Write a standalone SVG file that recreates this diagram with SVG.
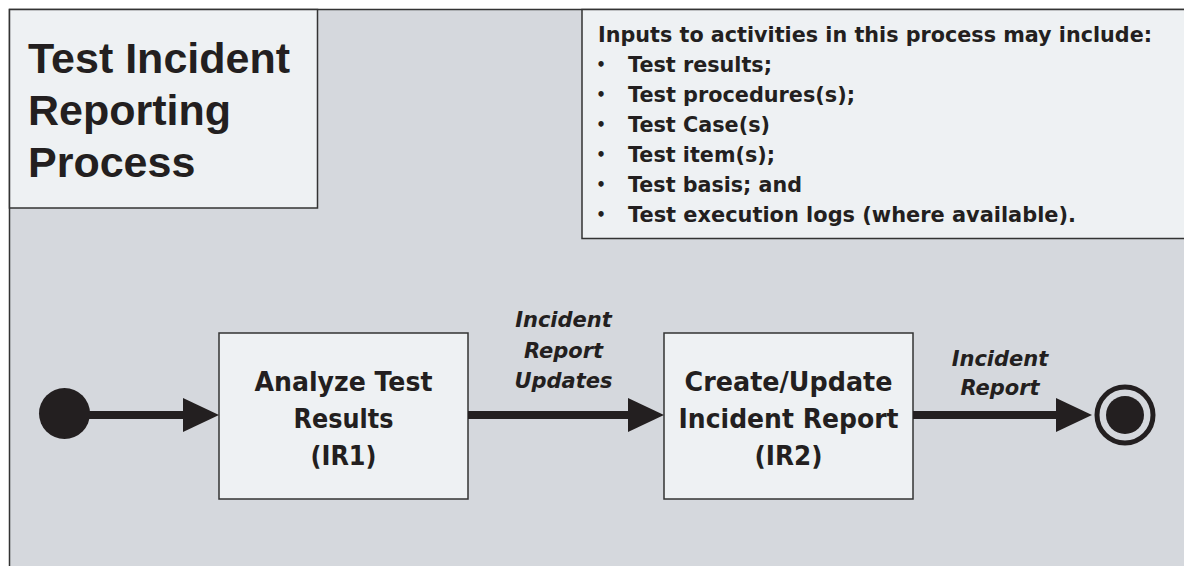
<svg xmlns="http://www.w3.org/2000/svg" width="1184" height="566" viewBox="0 0 1184 566">
  <defs>
    <style>
      .frame { fill: #d5d8dd; stroke: #333333; stroke-width: 1.5; }
      .box { fill: #eef1f3; stroke: #333333; stroke-width: 1.5; }
      .title { font-family: "Liberation Sans", Arial, sans-serif; font-weight: bold; font-size: 43px; fill: #231f20; }
      .note { font-family: "DejaVu Sans", Verdana, sans-serif; font-weight: bold; font-size: 22px; fill: #231f20; }
      .bul { font-family: "DejaVu Sans", Verdana, sans-serif; font-weight: bold; font-size: 15px; fill: #231f20; text-anchor: middle; }
      .node { font-family: "DejaVu Sans", Verdana, sans-serif; font-weight: bold; font-size: 27px; fill: #231f20; text-anchor: middle; }
      .lbl { font-family: "DejaVu Sans", Verdana, sans-serif; font-weight: bold; font-style: italic; font-size: 21px; fill: #231f20; text-anchor: middle; }
      .flow { stroke: #231f20; stroke-width: 8; fill: none; marker-end: url(#arrow); }
      .dot { fill: #231f20; }
    </style>
    <marker id="arrow" markerUnits="userSpaceOnUse" markerWidth="36" markerHeight="34" refX="6" refY="17" orient="auto" overflow="visible">
      <path d="M0,0 L36,17 L0,34 Z" fill="#231f20"/>
    </marker>
  </defs>

  <rect x="0" y="0" width="1184" height="566" fill="#ffffff"/>
  <rect id="frame" class="frame" x="9.5" y="9.5" width="1200" height="600"/>

  <g id="title">
    <rect class="box" x="9.5" y="9.5" width="308" height="198.5"/>
    <text class="title" x="28" y="73">Test Incident</text>
    <text class="title" x="28" y="125">Reporting</text>
    <text class="title" x="28" y="177">Process</text>
  </g>

  <g id="inputs">
    <rect class="box" x="582" y="9.5" width="640" height="229"/>
    <text class="note" x="598" y="42" textLength="554" lengthAdjust="spacingAndGlyphs">Inputs to activities in this process may include:</text>
    <text class="bul" x="601" y="70">•</text>
    <text class="note" x="628" y="72" textLength="144" lengthAdjust="spacingAndGlyphs">Test results;</text>
    <text class="bul" x="601" y="100">•</text>
    <text class="note" x="628" y="102" textLength="227" lengthAdjust="spacingAndGlyphs">Test procedures(s);</text>
    <text class="bul" x="601" y="130">•</text>
    <text class="note" x="628" y="132" textLength="142" lengthAdjust="spacingAndGlyphs">Test Case(s)</text>
    <text class="bul" x="601" y="160">•</text>
    <text class="note" x="628" y="162" textLength="147" lengthAdjust="spacingAndGlyphs">Test item(s);</text>
    <text class="bul" x="601" y="190">•</text>
    <text class="note" x="628" y="192" textLength="174" lengthAdjust="spacingAndGlyphs">Test basis; and</text>
    <text class="bul" x="601" y="220">•</text>
    <text class="note" x="628" y="222" textLength="448" lengthAdjust="spacingAndGlyphs">Test execution logs (where available).</text>
  </g>

  <g id="start">
    <circle class="dot" cx="64.5" cy="413.5" r="25.5"/>
  </g>

  <g id="IR1">
    <rect class="box" x="219" y="333" width="249" height="166"/>
    <text class="node" x="343.5" y="391" textLength="178" lengthAdjust="spacingAndGlyphs">Analyze Test</text>
    <text class="node" x="343.5" y="428" textLength="100" lengthAdjust="spacingAndGlyphs">Results</text>
    <text class="node" x="343.5" y="465" textLength="66" lengthAdjust="spacingAndGlyphs">(IR1)</text>
  </g>

  <g id="IR2">
    <rect class="box" x="664" y="333" width="249" height="166"/>
    <text class="node" x="788.5" y="391" textLength="208" lengthAdjust="spacingAndGlyphs">Create/Update</text>
    <text class="node" x="788.5" y="428" textLength="220" lengthAdjust="spacingAndGlyphs">Incident Report</text>
    <text class="node" x="788.5" y="465" textLength="68" lengthAdjust="spacingAndGlyphs">(IR2)</text>
  </g>

  <g id="end">
    <circle cx="1125" cy="415" r="28" fill="none" stroke="#231f20" stroke-width="5"/>
    <circle class="dot" cx="1125" cy="415" r="19"/>
  </g>

  <g id="connectors">
    <line class="flow" x1="88" y1="415" x2="189" y2="415"/>
    <line class="flow" x1="468" y1="415" x2="634" y2="415"/>
    <line class="flow" x1="913" y1="415" x2="1062" y2="415"/>
    <text class="lbl" x="563.5" y="327">Incident</text>
    <text class="lbl" x="563.5" y="358">Report</text>
    <text class="lbl" x="563.5" y="388">Updates</text>
    <text class="lbl" x="1000" y="366">Incident</text>
    <text class="lbl" x="1000" y="395">Report</text>
  </g>
</svg>
